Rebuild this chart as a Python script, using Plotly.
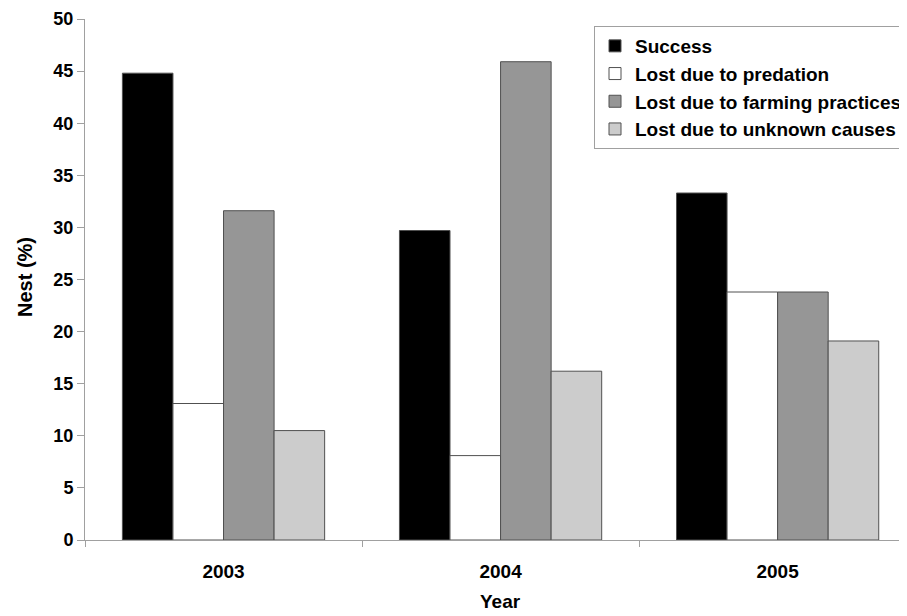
import plotly.graph_objects as go

years = ["2003", "2004", "2005"]
series_names = ["Success", "Lost due to predation", "Lost due to farming practices", "Lost due to unknown causes"]
success = [44.8, 29.7, 33.3]
predation = [13.1, 8.1, 23.8]
farming = [31.6, 45.9, 23.8]
unknown = [10.5, 16.2, 19.1]
colors = ["#000000", "#ffffff", "#969696", "#cccccc"]
y_ticks = [0, 5, 10, 15, 20, 25, 30, 35, 40, 45, 50]

FONT = "Liberation Sans, Arial, sans-serif"

# the page body has an 8px margin, so the figure is drawn 8px smaller/offset
OFF = 8
W, H = 907 - OFF, 616 - OFF
L, R, T, B = 85 - OFF, 0, 19 - OFF, 616 - 540
PW, PH = W - L - R, H - T - B


def px_x(page_x):
    return (page_x - OFF - L) / PW


def px_y(page_y):
    return (H - B - (page_y - OFF)) / PH


fig = go.Figure()
for i, (name, vals) in enumerate(zip(series_names, [success, predation, farming, unknown])):
    fig.add_trace(go.Bar(
        x=years, y=vals, name=name, legendgroup=name,
        marker=dict(color=colors[i], line=dict(color="#505050", width=1)),
    ))

fig.update_layout(
    width=W, height=H,
    margin=dict(l=L, r=R, t=T, b=B, autoexpand=False),
    paper_bgcolor="white", plot_bgcolor="white",
    barmode="group", bargap=0.27, bargroupgap=0,
    font=dict(family=FONT, color="black"),
    showlegend=True,
    legend=dict(
        x=px_x(594), y=px_y(26), xanchor="left", yanchor="top",
        bgcolor="white", bordercolor="#a0a0a0", borderwidth=1,
        font=dict(family=FONT, size=19, color="black", weight="bold"),
        tracegroupgap=6, traceorder="normal",
    ),
    xaxis=dict(
        range=[-0.5, 2.467], showline=True, linecolor="#a0a0a0", linewidth=1,
        ticks="outside", tickson="boundaries", ticklen=6, tickcolor="#a0a0a0",
        tickfont=dict(family=FONT, size=19, weight="bold"),
        ticklabelstandoff=14, automargin=False,
        showgrid=False, zeroline=False,
    ),
    yaxis=dict(
        range=[0, 50], tickvals=y_ticks, showline=True, linecolor="#a0a0a0", linewidth=1,
        ticks="outside", ticklen=7, tickcolor="#a0a0a0",
        tickfont=dict(family=FONT, size=18, weight="bold"),
        automargin=False,
        showgrid=False, zeroline=False,
    ),
    annotations=[
        dict(text="<b>Year</b>", xref="paper", yref="paper",
             x=px_x(500), y=px_y(601), xanchor="center", yanchor="middle",
             showarrow=False, font=dict(family=FONT, size=19, color="black")),
        dict(text="<b>Nest (%)</b>", xref="paper", yref="paper",
             x=px_x(25), y=px_y(277), xanchor="center", yanchor="middle",
             textangle=-90, showarrow=False, font=dict(family=FONT, size=20, color="black")),
    ],
)

fig.write_html("out.html")
